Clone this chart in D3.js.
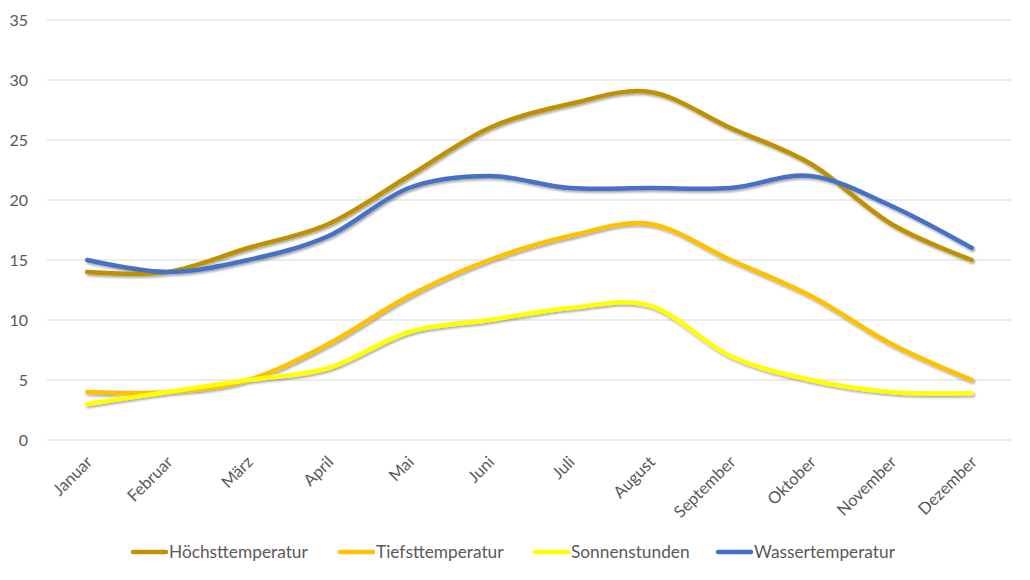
<!DOCTYPE html>
<html><head><meta charset="utf-8">
<script src="https://cdn.jsdelivr.net/npm/d3@7"></script>
<style>
html,body{margin:0;padding:0;background:#fff;}
text{font-family:Lato,"Open Sans",sans-serif;fill:#595959;}
</style></head>
<body><svg id="chart" width="1030" height="580"></svg>
<script>
const months = ["Januar","Februar","März","April","Mai","Juni","Juli","August","September","Oktober","November","Dezember"];
const hoechst = [14,14,16,18,22,26,28,29,26,23,18,15];
const tiefst = [4,4,5,8,12,15,17,18,15,12,8,5];
const sonnen = [3,4,5,6,9,10,11,11.2,7,5,4,3.9];
const wasser = [15,14,15,17,21,22,21,21,21,22,19.5,16];
const seriesNames = ["Höchsttemperatur","Tiefsttemperatur","Sonnenstunden","Wassertemperatur"];
const seriesColors = ["#BF9000","#FFC000","#FFFF00","#4472C4"];
const yTicks = [0,5,10,15,20,25,30,35];

const series = [hoechst, tiefst, sonnen, wasser].map((v,i)=>({name:seriesNames[i], color:seriesColors[i], values:v}));

const svg = d3.select("#chart");
const mLeft = 47, mRight = 1012, mTop = 20, mBottom = 440;

const x = d3.scaleBand().domain(months).range([mLeft,mRight]);
const y = d3.scaleLinear().domain([0,35]).range([mBottom,mTop]);

const defs = svg.append("defs");
const f = defs.append("filter").attr("id","shadow").attr("x","-10%").attr("y","-10%").attr("width","120%").attr("height","130%");
f.append("feDropShadow").attr("dx",1.2).attr("dy",1.8).attr("stdDeviation",1.3).attr("flood-color","#000").attr("flood-opacity",0.35);

// gridlines
svg.append("g").selectAll("line").data(yTicks).join("line")
  .attr("x1",mLeft).attr("x2",mRight)
  .attr("y1",d=>y(d)).attr("y2",d=>y(d))
  .attr("stroke","#d9d9d9").attr("stroke-width",1.2);

// y axis labels
const yAxis = d3.axisLeft(y).tickValues(yTicks).tickSize(0).tickPadding(0);
const gy = svg.append("g").attr("transform",`translate(${mLeft-19},0)`).call(yAxis);
gy.select(".domain").remove();
gy.selectAll("text").style("font-size","16px").attr("fill","#595959");

// x axis labels
const xAxis = d3.axisBottom(x).tickSize(0).tickPadding(0);
const gx = svg.append("g").attr("transform",`translate(0,${mBottom})`).call(xAxis);
gx.select(".domain").remove();
gx.selectAll("text")
  .style("font-size","16.5px").attr("fill","#595959")
  .attr("text-anchor","end")
  .attr("dy","0.35em")
  .attr("transform","translate(2,19) rotate(-45)");

// lines
const line = d3.line()
  .x((d,i)=>x(months[i]) + x.bandwidth()/2)
  .y(d=>y(d))
  .curve(d3.curveCatmullRom.alpha(0));

svg.append("g").attr("filter","url(#shadow)").selectAll("path").data(series).join("path")
  .attr("d",d=>line(d.values))
  .attr("fill","none")
  .attr("stroke",d=>d.color)
  .attr("stroke-width",4.5)
  .attr("stroke-linecap","round")
  .attr("stroke-linejoin","round");

// legend
const legendX = [133,340,535,718];
const lg = svg.append("g").selectAll("g").data(series).join("g")
  .attr("transform",(d,i)=>`translate(${legendX[i]},552)`);
lg.append("line").attr("x1",0).attr("x2",33).attr("y1",0).attr("y2",0)
  .attr("stroke",d=>d.color).attr("stroke-width",4.5).attr("stroke-linecap","round");
lg.append("text").attr("x",36).attr("y",0).attr("dy","0.35em")
  .style("font-size","17.3px").text(d=>d.name);
</script>
</body></html>
